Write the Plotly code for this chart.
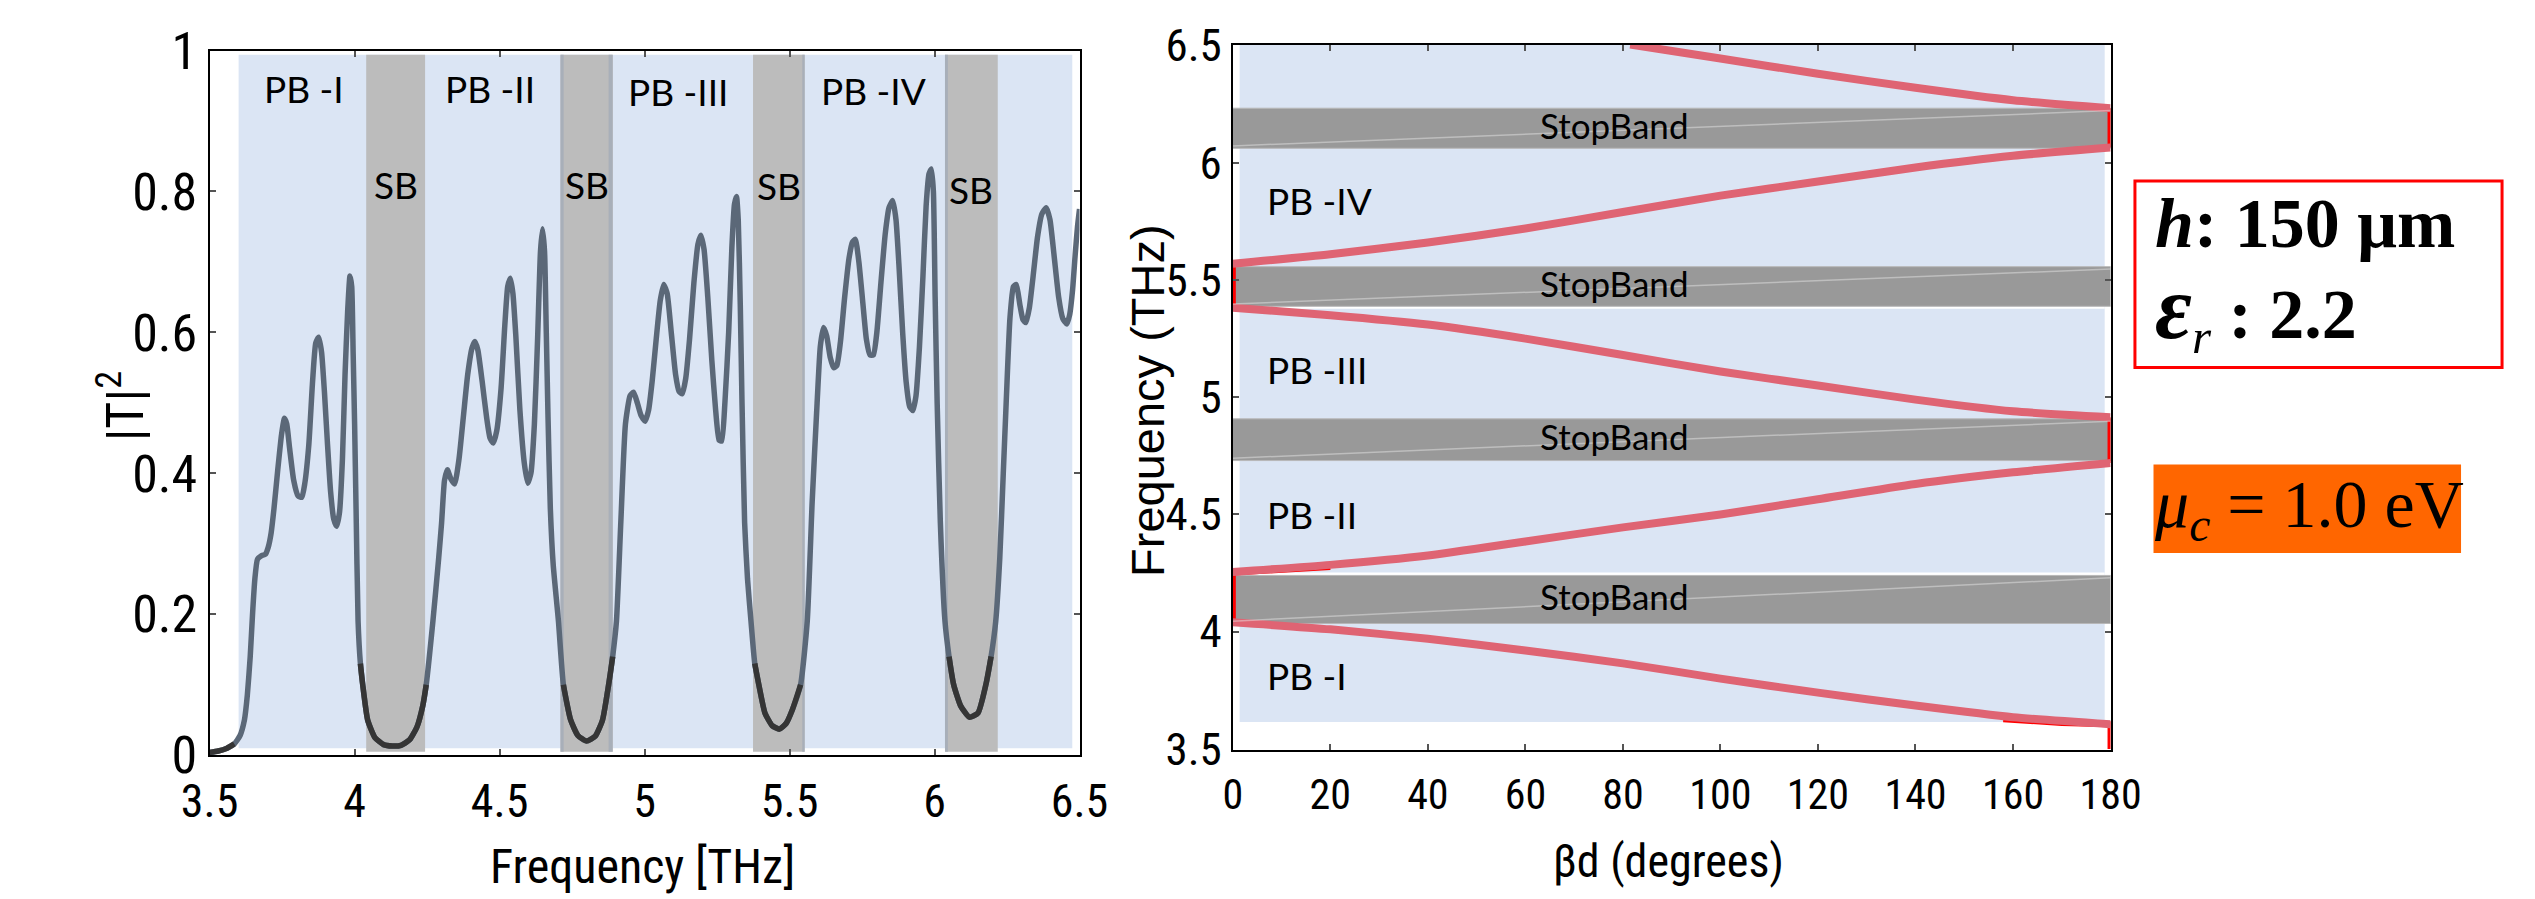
import numpy as np
import plotly.graph_objects as go

W, H = 2535, 899

# ---------------- transmission spectrum |T|^2 ----------------
freq_thz = [
    3.500, 3.530, 3.560, 3.585, 3.605, 3.620, 3.630, 3.640, 3.648, 3.656,
    3.665, 3.678, 3.692, 3.702, 3.712, 3.722, 3.735, 3.748, 3.758, 3.766,
    3.776, 3.790, 3.805, 3.818, 3.828, 3.842, 3.855, 3.866, 3.876, 3.886,
    3.896, 3.906, 3.917, 3.928, 3.938, 3.948, 3.958, 3.967, 3.976, 3.984,
    3.990, 3.995, 4.000, 4.005, 4.012, 4.020, 4.028, 4.045, 4.070, 4.100,
    4.130, 4.160, 4.190, 4.215, 4.235, 4.247, 4.270, 4.290, 4.300, 4.310,
    4.320, 4.332, 4.345, 4.360, 4.375, 4.390, 4.405, 4.415, 4.425, 4.440,
    4.455, 4.467, 4.478, 4.490, 4.505, 4.518, 4.528, 4.537, 4.546, 4.556,
    4.570, 4.585, 4.597, 4.608, 4.620, 4.631, 4.641, 4.648, 4.655, 4.661,
    4.667, 4.675, 4.685, 4.703, 4.720, 4.745, 4.770, 4.800, 4.830, 4.855,
    4.876, 4.890, 4.903, 4.918, 4.934, 4.950, 4.962, 4.975, 4.988, 5.002,
    5.014, 5.026, 5.040, 5.054, 5.066, 5.078, 5.092, 5.107, 5.119, 5.130,
    5.142, 5.155, 5.170, 5.184, 5.194, 5.205, 5.218, 5.232, 5.245, 5.257,
    5.266, 5.277, 5.290, 5.301, 5.310, 5.317, 5.323, 5.330, 5.336, 5.345,
    5.355, 5.367, 5.380, 5.394, 5.415, 5.440, 5.465, 5.488, 5.510, 5.538,
    5.561, 5.578, 5.595, 5.606, 5.617, 5.628, 5.640, 5.652, 5.663, 5.675,
    5.690, 5.705, 5.717, 5.727, 5.739, 5.752, 5.765, 5.777, 5.789, 5.801,
    5.815, 5.830, 5.843, 5.856, 5.867, 5.878, 5.890, 5.902, 5.914, 5.925,
    5.936, 5.948, 5.960, 5.971, 5.981, 5.989, 5.996, 6.002, 6.009, 6.020,
    6.036, 6.050, 6.066, 6.090, 6.120, 6.150, 6.177, 6.195, 6.211, 6.225,
    6.237, 6.247, 6.260, 6.272, 6.282, 6.294, 6.305, 6.315, 6.327, 6.340,
    6.355, 6.370, 6.385, 6.398, 6.412, 6.428, 6.442, 6.456, 6.466, 6.476,
    6.485, 6.493, 6.500,
]
trans = [
    0.004, 0.006, 0.010, 0.016, 0.028, 0.050, 0.085, 0.140, 0.200, 0.250,
    0.278, 0.283, 0.285, 0.295, 0.315, 0.350, 0.405, 0.455, 0.478, 0.470,
    0.435, 0.390, 0.368, 0.366, 0.385, 0.440, 0.530, 0.585, 0.593, 0.572,
    0.515, 0.445, 0.375, 0.335, 0.325, 0.345, 0.420, 0.540, 0.630, 0.680,
    0.665, 0.570, 0.470, 0.350, 0.190, 0.130, 0.100, 0.050, 0.025, 0.015,
    0.013, 0.014, 0.022, 0.040, 0.070, 0.100, 0.190, 0.280, 0.330, 0.390,
    0.405, 0.392, 0.385, 0.420, 0.480, 0.540, 0.578, 0.587, 0.575, 0.530,
    0.480, 0.450, 0.443, 0.460, 0.520, 0.610, 0.665, 0.677, 0.655, 0.595,
    0.490, 0.415, 0.386, 0.400, 0.470, 0.590, 0.715, 0.747, 0.715, 0.600,
    0.480, 0.350, 0.270, 0.190, 0.100, 0.050, 0.028, 0.020, 0.027, 0.050,
    0.100, 0.140, 0.190, 0.330, 0.470, 0.510, 0.515, 0.500, 0.482, 0.474,
    0.490, 0.530, 0.590, 0.645, 0.668, 0.655, 0.600, 0.540, 0.516, 0.513,
    0.535, 0.590, 0.670, 0.725, 0.738, 0.718, 0.650, 0.560, 0.490, 0.447,
    0.446, 0.500, 0.600, 0.720, 0.782, 0.793, 0.760, 0.640, 0.500, 0.330,
    0.250, 0.190, 0.130, 0.100, 0.060, 0.042, 0.037, 0.045, 0.065, 0.100,
    0.190, 0.360, 0.500, 0.580, 0.607, 0.595, 0.565, 0.550, 0.553, 0.585,
    0.650, 0.705, 0.728, 0.732, 0.700, 0.645, 0.590, 0.568, 0.568, 0.600,
    0.670, 0.740, 0.777, 0.787, 0.760, 0.690, 0.600, 0.530, 0.495, 0.489,
    0.510, 0.580, 0.680, 0.780, 0.825, 0.832, 0.800, 0.650, 0.500, 0.330,
    0.190, 0.140, 0.100, 0.070, 0.054, 0.060, 0.100, 0.140, 0.190, 0.280,
    0.400, 0.500, 0.620, 0.665, 0.668, 0.640, 0.618, 0.614, 0.635, 0.680,
    0.735, 0.768, 0.777, 0.760, 0.710, 0.650, 0.620, 0.612, 0.625, 0.660,
    0.710, 0.750, 0.775,
]

# pass-band / stop-band limits of the spectrum (THz)
pass_lo, pass_hi = 3.60, 6.475
sb_lo = [4.040, 4.710, 5.374, 6.036]
sb_hi = [4.243, 4.890, 5.552, 6.218]
pb_names = ["PB -I", "PB -II", "PB -III", "PB -IV"]
pb_name_f = [3.825, 4.466, 5.116, 5.790]
pb_name_t = [0.946, 0.946, 0.942, 0.943]
sb_name_t = [0.810, 0.810, 0.809, 0.803]

# ---------------- dispersion diagram ----------------
beta_deg = [0, 20, 40, 60, 80, 100, 120, 140, 160, 180]
band1 = [4.040, 4.010, 3.970, 3.920, 3.865, 3.800, 3.740, 3.685, 3.635, 3.605]
band2 = [4.255, 4.285, 4.325, 4.385, 4.445, 4.500, 4.565, 4.630, 4.680, 4.720]
band3 = [5.382, 5.350, 5.310, 5.250, 5.180, 5.110, 5.050, 4.990, 4.940, 4.915]
band4 = [5.570, 5.610, 5.660, 5.720, 5.790, 5.860, 5.920, 5.980, 6.030, 6.065]
band5_beta = [81.5, 100, 120, 140, 160, 180]
band5 = [6.505, 6.445, 6.380, 6.320, 6.267, 6.233]

disp_sb_lo = [4.035, 4.730, 5.388, 6.062]
disp_sb_hi = [4.240, 4.908, 5.557, 6.233]
disp_pb_f = [3.814, 4.502, 5.118, 5.838]
disp_floor = 3.615

# ---------------- styling ----------------
BLUE = "#dbe5f4"
GREY_L = "#bcbcbc"
GREY_EDGE = "#a8afb9"
GREY_R = "#999999"
PINK = "#df6473"
CURVE = "#5b6878"
NARROW = "Roboto Condensed, Liberation Sans Narrow, Liberation Sans, Arial, sans-serif"
ARIAL = "Liberation Sans, Arial, sans-serif"
CALIBRI_LIKE = "Lato, Open Sans, sans-serif"
SERIF = "Liberation Serif, Times New Roman, serif"


def px_x(x):
    return x / W


def px_y(y):
    return 1 - y / H


fig = go.Figure()

# |T|^2 curve
fig.add_trace(go.Scatter(
    x=freq_thz, y=trans, mode="lines", xaxis="x", yaxis="y",
    line=dict(color=CURVE, width=5.5, shape="spline", smoothing=0.5),
    hoverinfo="skip", showlegend=False))

# darker portions where the curve sits in the stop bands
f_arr = np.array(freq_thz)
t_arr = np.array(trans)
in_sb = np.zeros_like(f_arr, dtype=bool)
for lo, hi in zip(sb_lo, sb_hi):
    in_sb |= (f_arr >= lo - 0.04) & (f_arr <= hi + 0.04)
dark = ((t_arr < 0.15) & in_sb) | (f_arr < pass_lo)
t_dark = np.where(dark, t_arr, np.nan)
fig.add_trace(go.Scatter(
    x=freq_thz, y=t_dark, mode="lines", xaxis="x", yaxis="y",
    line=dict(color="#353535", width=5.5, shape="spline", smoothing=0.5),
    connectgaps=False, hoverinfo="skip", showlegend=False))

# bright-red branch pieces running along the band edges
red_segments = [
    ([158, 170, 180, 180], [3.626, 3.611, 3.605, 3.5]),
    ([0, 10, 20], [4.252, 4.262, 4.276]),
    ([0, 0], [band1[0], band2[0]]),
    ([0, 0], [band3[0], band4[0]]),
    ([180, 180], [band2[-1], band3[-1]]),
    ([180, 180], [band4[-1], band5[-1]]),
]
for xs, ys in red_segments:
    fig.add_trace(go.Scatter(
        x=xs, y=ys, mode="lines", xaxis="x2", yaxis="y2",
        line=dict(color="#ff0000", width=6),
        hoverinfo="skip", showlegend=False))

# dispersion branches
for ys in (band1, band2, band3, band4):
    fig.add_trace(go.Scatter(
        x=beta_deg, y=ys, mode="lines", xaxis="x2", yaxis="y2",
        line=dict(color=PINK, width=8, shape="spline", smoothing=0.6),
        hoverinfo="skip", showlegend=False))
fig.add_trace(go.Scatter(
    x=band5_beta, y=band5, mode="lines", xaxis="x2", yaxis="y2",
    line=dict(color=PINK, width=8, shape="spline", smoothing=0.6),
    hoverinfo="skip", showlegend=False))

# faint traces crossing the stop bands
for lo, hi in zip(disp_sb_lo, disp_sb_hi):
    fig.add_trace(go.Scatter(
        x=[0, 180], y=[lo + 0.01, hi - 0.01], mode="lines", xaxis="x2", yaxis="y2",
        line=dict(color="rgba(235,235,235,0.45)", width=1.5),
        hoverinfo="skip", showlegend=False))

shapes = []
# spectrum panel backgrounds
shapes.append(dict(type="rect", xref="x", yref="y", x0=pass_lo, x1=pass_hi,
                   y0=0.01, y1=0.994, fillcolor=BLUE, line=dict(width=0), layer="below"))
for lo, hi in zip(sb_lo, sb_hi):
    shapes.append(dict(type="rect", xref="x", yref="y", x0=lo, x1=hi,
                       y0=0.005, y1=0.994, fillcolor=GREY_L, line=dict(width=0), layer="below"))
for lo, hi in [(sb_lo[1], sb_lo[1] + 0.011), (sb_hi[1] - 0.014, sb_hi[1]),
               (sb_hi[2] - 0.008, sb_hi[2]), (sb_lo[3], sb_lo[3] + 0.01)]:
    shapes.append(dict(type="rect", xref="x", yref="y", x0=lo, x1=hi,
                       y0=0.005, y1=0.994, fillcolor=GREY_EDGE, line=dict(width=0), layer="below"))

# dispersion panel backgrounds
shapes.append(dict(type="rect", xref="x2", yref="y2", x0=1.4, x1=178.8,
                   y0=disp_floor, y1=6.503, fillcolor=BLUE, line=dict(width=0), layer="below"))
for lo, hi in [(disp_sb_hi[0], disp_sb_hi[0] + 0.012), (disp_sb_lo[2] - 0.01, disp_sb_lo[2])]:
    shapes.append(dict(type="rect", xref="x2", yref="y2", x0=1.4, x1=178.8,
                       y0=lo, y1=hi, fillcolor="white", line=dict(width=0), layer="below"))
for lo, hi in zip(disp_sb_lo, disp_sb_hi):
    shapes.append(dict(type="rect", xref="x2", yref="y2", x0=-0.5, x1=180.5,
                       y0=lo, y1=hi, fillcolor=GREY_R,
                       line=dict(color="#b8b8b8", width=1), layer="below"))

# parameter boxes
shapes.append(dict(type="rect", xref="paper", yref="paper",
                   x0=px_x(2157), x1=px_x(2533), y0=px_y(362), y1=px_y(162),
                   fillcolor="white", line=dict(color="#ff0000", width=3)))
shapes.append(dict(type="rect", xref="paper", yref="paper",
                   x0=px_x(2176), x1=px_x(2491), y0=px_y(561), y1=px_y(466),
                   fillcolor="#ff6600", line=dict(width=0)))

annotations = []
for name, f, t in zip(pb_names, pb_name_f, pb_name_t):
    annotations.append(dict(xref="x", yref="y", x=f, y=t, text=name, showarrow=False,
                            xanchor="center", yanchor="middle",
                            font=dict(family=CALIBRI_LIKE, size=37, color="black")))
for lo, hi, t in zip(sb_lo, sb_hi, sb_name_t):
    annotations.append(dict(xref="x", yref="y", x=(lo + hi) / 2, y=t, text="SB", showarrow=False,
                            xanchor="center", yanchor="middle",
                            font=dict(family=CALIBRI_LIKE, size=37, color="black")))
for name, f in zip(pb_names, disp_pb_f):
    annotations.append(dict(xref="x2", yref="y2", x=6.5, y=f, text=name, showarrow=False,
                            xanchor="left", yanchor="middle",
                            font=dict(family=CALIBRI_LIKE, size=37, color="black")))
for lo, hi in zip(disp_sb_lo, disp_sb_hi):
    annotations.append(dict(xref="x2", yref="y2", x=78.3, y=(lo + hi) / 2 + 0.015,
                            text="StopBand", showarrow=False,
                            xanchor="center", yanchor="middle",
                            font=dict(family=CALIBRI_LIKE, size=35, color="black")))

# axis titles
annotations.append(dict(xref="paper", yref="paper", x=px_x(628), y=px_y(930),
                        xanchor="center", yanchor="bottom",
                        text="Frequency [THz]", showarrow=False,
                        font=dict(family=NARROW, size=48, color="black")))
annotations.append(dict(xref="paper", yref="paper", x=px_x(95), y=px_y(404),
                        xanchor="center", yanchor="middle",
                        text="|T|<sup>2</sup>", showarrow=False, textangle=-90,
                        font=dict(family=NARROW, size=52, color="black")))
annotations.append(dict(xref="paper", yref="paper", x=px_x(1679), y=px_y(923),
                        xanchor="center", yanchor="bottom",
                        text="βd (degrees)", showarrow=False,
                        font=dict(family=NARROW, size=46, color="black")))
annotations.append(dict(xref="paper", yref="paper", x=px_x(1145), y=px_y(397),
                        xanchor="center", yanchor="middle",
                        text="Frequency (THz)", showarrow=False, textangle=-90,
                        font=dict(family=ARIAL, size=47, color="black")))

# parameter texts
annotations.append(dict(xref="paper", yref="paper", x=px_x(2175), y=px_y(262),
                        xanchor="left", yanchor="middle", align="left", showarrow=False,
                        text="<b><i>h</i>: 150 μm</b><br>"
                             "<b><i><span style='font-size:90px'>ε</span></i></b>"
                             "<sub><i>r</i></sub><b> : 2.2</b>",
                        font=dict(family=SERIF, size=70, color="black")))
annotations.append(dict(xref="paper", yref="paper", x=px_x(2335), y=px_y(513),
                        xanchor="center", yanchor="middle", showarrow=False,
                        text="<i>μ</i><sub><i>c</i></sub> = 1.0 eV",
                        font=dict(family=SERIF, size=68, color="black")))

axis_common = dict(showgrid=False, zeroline=False, showline=True, linecolor="black",
                   linewidth=2, mirror="ticks", ticks="inside", ticklen=6,
                   tickcolor="#555555", tickwidth=1.5, ticklabeloverflow="allow")

fig.update_layout(
    width=W, height=H,
    margin=dict(l=0, r=0, t=0, b=0),
    paper_bgcolor="white", plot_bgcolor="white",
    showlegend=False,
    xaxis=dict(domain=[px_x(185), px_x(1076)], range=[3.5, 6.5],
               tickvals=[3.5, 4, 4.5, 5, 5.5, 6, 6.5],
               ticktext=["3.5", "4", "4.5", "5", "5.5", "6", "6.5"],
               tickfont=dict(family=NARROW, size=46, color="black"),
               ticklabelstandoff=5,
               anchor="y", **axis_common),
    yaxis=dict(domain=[px_y(778), px_y(22)], range=[0, 1],
               tickvals=[0, 0.2, 0.4, 0.6, 0.8, 1],
               ticktext=["0", "0.2", "0.4", "0.6", "0.8", "1"],
               tickfont=dict(family=NARROW, size=52, color="black"),
               ticklabelstandoff=0,
               anchor="x", **axis_common),
    xaxis2=dict(domain=[px_x(1233), px_x(2132)], range=[0, 180],
                tickvals=list(range(0, 181, 20)),
                tickfont=dict(family=NARROW, size=42, color="black"),
                ticklabelstandoff=7,
                anchor="y2", **axis_common),
    yaxis2=dict(domain=[px_y(772), px_y(16)], range=[3.497, 6.503],
                tickvals=[3.5, 4, 4.5, 5, 5.5, 6, 6.5],
                ticktext=["3.5", "4", "4.5", "5", "5.5", "6", "6.5"],
                tickfont=dict(family=NARROW, size=45, color="black"),
                ticklabelstandoff=0,
                anchor="x2", **axis_common),
    shapes=shapes,
    annotations=annotations,
)

fig.write_html("out.html")
